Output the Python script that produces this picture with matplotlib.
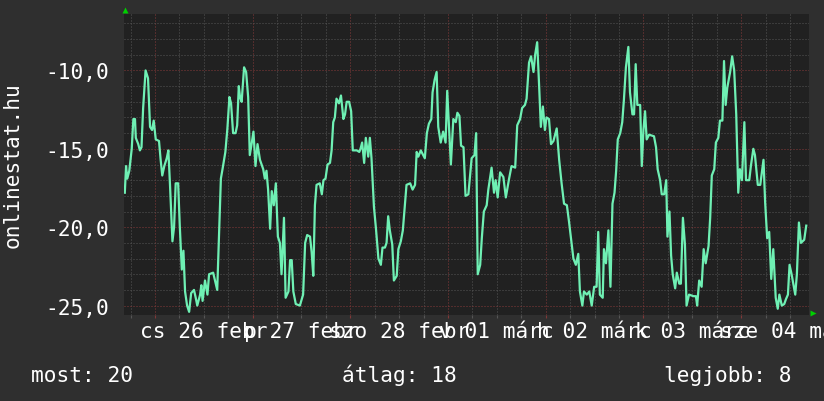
import matplotlib
matplotlib.use('Agg')
import matplotlib.pyplot as plt
from matplotlib.transforms import blended_transform_factory

# hours since 2015-02-26 00:00, and the (negated) rank
hours = [-7.4, -7.1, -6.8, -6.3, -5.7, -5.3, -4.9, -4.7, -4.1, -3.7,
         -3.3, -2.9, -2.3, -1.7, -1.2, -0.7, -0.3, 0.2, 1.0, 1.4,
         1.8, 2.3, 2.9, 3.3, 3.7, 4.3, 4.7, 5.1, 5.7, 6.1,
         6.6, 7.0, 7.4, 7.9, 8.4, 8.9, 9.6, 10.1, 10.4, 11.1,
         11.4, 11.7, 12.3, 12.9, 13.3, 14.3, 15.3, 15.8, 16.2, 16.6,
         17.3, 17.8, 18.3, 18.7, 19.2, 19.8, 20.2, 20.6,
         20.9, 21.3, 21.9, 22.4, 22.9, 23.3, 23.8, 24.2, 24.7, 25.2,
         25.8, 26.6, 27.0, 27.4, 27.8, 28.3, 28.7, 29.2, 29.7, 30.2,
         30.7, 31.1, 31.7, 32.1, 32.8, 33.2, 33.6, 34.0, 34.6, 35.6,
         36.4, 36.9, 37.4, 38.1, 38.5, 38.9, 39.3, 39.7, 40.5, 41.0,
         41.4, 41.9, 42.4, 43.0, 43.4, 43.8, 44.2, 44.6, 45.2, 45.7,
         46.3, 46.7, 47.1, 47.7, 48.2, 48.6,
         49.6, 50.2, 50.5, 50.9, 51.4, 51.8, 52.4, 52.8, 53.2, 53.8,
         54.3, 54.9, 55.5, 55.9, 56.5, 56.9, 57.3, 57.7, 58.3, 58.7,
         59.4, 59.8, 60.4, 60.9, 61.3, 61.8, 62.7, 63.3, 63.9, 64.3,
         64.7, 65.3, 66.3, 66.8, 67.3, 67.9, 68.2, 68.7, 69.2, 69.6,
         70.2, 70.8, 71.4, 71.8, 72.7, 73.3, 73.9, 74.3, 74.8, 75.2,
         75.8, 76.3, 77.0,
         77.8, 78.5, 78.9, 79.3, 79.9, 80.3, 80.8, 81.5, 81.9, 82.3,
         82.7, 83.3, 83.7, 84.2, 84.8, 85.6, 86.2, 87.0, 87.6, 88.5,
         89.0, 89.7, 90.2, 90.9, 91.3, 91.9, 92.4, 93.0, 93.4, 93.9,
         94.4, 94.8, 95.3, 95.8, 96.2, 96.8, 97.3, 97.9, 98.7, 99.3,
         99.9, 100.5, 101.2, 101.7, 102.4, 102.8, 103.4, 104.0, 104.4, 105.0,
         105.4,
         106.1, 106.7, 107.3, 107.9, 108.5, 108.9, 109.3, 110.0, 110.3, 110.8,
         111.4, 111.9, 112.4, 112.9, 113.3, 113.7, 114.3, 114.8, 115.2, 115.7,
         116.3, 116.7, 117.3, 117.7, 118.1, 118.5, 119.2, 119.6, 120.0, 120.4,
         120.8, 121.4, 122.6, 123.1, 123.5, 124.1, 124.5, 125.1, 125.6, 125.9,
         126.4, 126.8, 127.2, 127.8, 128.2, 128.8, 129.2, 129.7, 130.2, 130.6,
         131.2, 132.3, 132.9, 133.2, 133.7,
         134.3, 134.8, 135.3, 136.0, 136.4, 136.8, 137.4, 137.8, 138.4, 138.8,
         139.4, 139.8, 140.2, 140.6, 141.3, 141.8, 142.3, 142.8, 143.3, 143.7,
         144.2, 144.8, 145.2, 146.0, 146.4, 147.0, 147.4, 148.1, 148.7, 149.5,
         149.9, 150.4, 150.9, 151.4, 151.9, 152.5, 153.0, 153.4, 154.0, 154.6,
         155.0, 155.5, 155.9, 156.4, 157.3, 157.7, 158.2, 158.7, 159.5, 160.0]

rank = [-17.8, -16.1, -16.9, -16.4, -15.0, -13.1, -13.1, -14.3, -14.7, -15.1,
        -14.9, -12.4, -10.0, -10.5, -13.6, -13.8, -13.2, -14.4, -14.5, -15.7,
        -16.7, -16.1, -15.6, -15.1, -17.3, -20.9, -20.0, -17.2, -17.2, -19.9,
        -22.7, -21.5, -24.1, -25.0, -25.4, -24.2, -24.0, -24.6, -25.0, -24.3,
        -23.7, -24.7, -23.4, -24.3, -23.0, -22.9, -24.0, -20.1, -16.9, -16.3,
        -15.2, -13.7, -11.7, -12.1, -14.0, -14.0, -13.5, -11.0,
        -11.7, -12.0, -9.8, -10.1, -11.7, -15.4, -14.6, -13.9, -16.1, -14.7,
        -15.7, -16.3, -16.9, -16.4, -17.6, -20.1, -17.7, -18.6, -17.2, -20.6,
        -21.0, -23.0, -19.4, -24.5, -24.1, -22.1, -22.1, -24.1, -24.9, -25.0,
        -24.3, -21.0, -20.5, -20.6, -21.6, -23.1, -18.6, -17.3, -17.2, -17.9,
        -17.0, -16.9, -16.0, -15.9, -15.1, -13.3, -13.0, -11.8, -12.1, -11.6,
        -13.1, -12.8, -12.0, -12.0, -12.6, -15.1,
        -15.1, -15.2, -15.0, -14.6, -15.9, -14.3, -15.5, -14.3, -15.6, -18.7,
        -20.1, -22.0, -22.4, -21.3, -21.3, -21.0, -19.3, -20.2, -21.1, -23.4,
        -23.1, -21.4, -20.9, -20.2, -18.9, -17.3, -17.2, -17.6, -17.3, -15.2,
        -15.5, -15.1, -15.6, -14.0, -13.4, -13.1, -11.4, -10.6, -10.1, -13.6,
        -14.6, -13.9, -14.6, -11.3, -16.0, -13.1, -13.3, -12.7, -12.9, -14.8,
        -14.9, -18.0, -17.9,
        -15.6, -15.4, -14.0, -23.0, -22.4, -20.7, -19.0, -18.6, -17.6, -16.9,
        -16.2, -17.8, -17.0, -18.1, -16.5, -16.8, -18.1, -16.9, -16.1, -16.2,
        -13.5, -13.1, -12.4, -12.2, -11.8, -9.5, -9.1, -10.1, -9.0, -8.2,
        -11.1, -13.6, -12.3, -13.8, -13.0, -13.1, -14.7, -14.5, -13.7, -15.7,
        -17.2, -18.5, -18.6, -19.6, -21.1, -22.0, -22.4, -21.7, -24.1, -25.0,
        -24.1,
        -24.3, -24.1, -25.0, -23.8, -23.8, -20.3, -24.3, -24.5, -21.4, -22.3,
        -20.2, -23.8, -18.5, -17.8, -16.4, -14.4, -14.0, -13.3, -11.9, -9.8,
        -8.5, -11.4, -12.8, -12.8, -9.6, -12.2, -12.2, -16.1, -13.8, -12.6,
        -14.4, -14.1, -14.2, -14.9, -16.3, -17.0, -17.9, -17.9, -17.0, -20.6,
        -19.0, -21.8, -23.0, -23.9, -22.9, -23.6, -23.6, -19.4, -21.1, -25.0,
        -24.3, -24.4, -24.4, -25.0, -23.4,
        -23.8, -21.4, -22.3, -21.2, -19.4, -16.7, -16.3, -14.6, -14.3, -13.2,
        -13.2, -9.4, -12.2, -11.1, -10.1, -9.1, -10.0, -12.8, -17.8, -16.3,
        -17.0, -13.3, -17.0, -17.0, -16.1, -15.0, -15.4, -17.3, -17.3, -15.7,
        -18.4, -20.7, -20.3, -23.3, -21.4, -24.5, -25.2, -24.3, -25.0, -24.9,
        -24.6, -24.3, -22.4, -23.0, -24.3, -23.0, -19.7, -21.0, -20.8, -19.9]

day_noon = [12, 36, 60, 84, 108, 132, 156]
day_labels = ['cs 26 febr', 'p 27 febr', 'szo 28 febr', 'v 01 márc',
              'h 02 márc', 'k 03 márc', 'sze 04 márc']
y_ticks = [-25, -20, -15, -10]
y_tick_labels = ['-25,0', '-20,0', '-15,0', '-10,0']
footer = ['most: 20', 'átlag: 18', 'legjobb: 8']

BG = '#2f2f2f'
PLOT_BG = '#212121'
FONT = 'DejaVu Sans Mono'
FS = 15.2

fig = plt.figure(figsize=(8.24, 4.02), dpi=100, facecolor=BG)
ax = fig.add_axes([124 / 824, 86 / 402, 685.5 / 824, 301 / 402])
ax.set_facecolor(PLOT_BG)

ax.plot(hours, rank, color='#6ff0b4', lw=1.6, zorder=3)

ax.set_xlim(-7.6, 160.8)
ax.set_ylim(-25.6, -6.4)

ax.set_xticks(range(0, 161, 24))
ax.set_xticks(range(-6, 161, 6), minor=True)
ax.set_yticks(y_ticks)
ax.set_yticks(range(-25, -6), minor=True)
ax.set_yticklabels(y_tick_labels, fontfamily=FONT, fontsize=FS, color='white')
ax.tick_params(axis='x', which='both', labelbottom=False, direction='out', length=2.2, width=0.8)
ax.tick_params(axis='x', which='major', color='#803838')
ax.tick_params(axis='x', which='minor', color='#555555')
ax.tick_params(axis='y', which='both', length=0, pad=11)

ax.grid(which='minor', color='#555555', lw=0.72, ls=(0, (1, 2)), zorder=1)
ax.grid(which='major', color='#863a3a', lw=0.72, ls=(0, (1, 2)), zorder=2)
for s in ax.spines.values():
    s.set_visible(False)

# day labels centred at noon
tr = blended_transform_factory(ax.transData, fig.transFigure)
for h, lab in zip(day_noon, day_labels):
    ax.text(h, 1 - 338 / 402, lab, transform=tr, ha='center', va='baseline',
            fontfamily=FONT, fontsize=FS, color='white', clip_on=False)

# arrows
ax.plot([0.0015], [1.013], marker='^', ms=4.5, color='#00d000', mec='none',
        transform=ax.transAxes, clip_on=False)
ax.plot([1.005], [0.006], marker='>', ms=4.5, color='#00d000', mec='none',
        transform=ax.transAxes, clip_on=False)

fig.text(12.5 / 824, 1 - 165.5 / 402, 'onlinestat.hu', rotation=90, ha='center', va='center',
         fontfamily=FONT, fontsize=FS, color='white')

fig.text(31 / 824, 1 - 382 / 402, footer[0], ha='left', va='baseline',
         fontfamily=FONT, fontsize=FS, color='white')
fig.text(399 / 824, 1 - 382 / 402, footer[1], ha='center', va='baseline',
         fontfamily=FONT, fontsize=FS, color='white')
fig.text(791 / 824, 1 - 382 / 402, footer[2], ha='right', va='baseline',
         fontfamily=FONT, fontsize=FS, color='white')

fig.savefig('out.png', dpi=100, facecolor=BG)
